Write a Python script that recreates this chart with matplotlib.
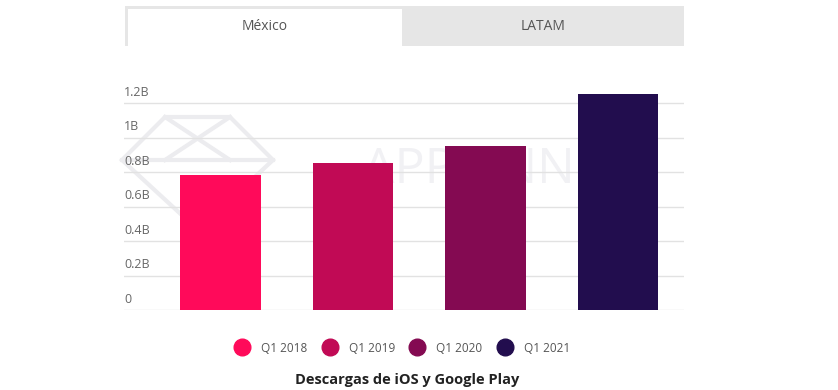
import matplotlib.pyplot as plt
from matplotlib.patches import Rectangle, Polygon
from matplotlib.lines import Line2D

plt.rcParams['font.family'] = ['Open Sans', 'DejaVu Sans']

# Data (billions of downloads)
quarters = ['Q1 2018', 'Q1 2019', 'Q1 2020', 'Q1 2021']
downloads = [0.78, 0.85, 0.95, 1.25]
colors = ['#ff0a5a', '#c10a55', '#840a52', '#220d4e']
yticks = [0, 0.2, 0.4, 0.6, 0.8, 1.0, 1.2]
ytick_labels = ['0', '0.2B', '0.4B', '0.6B', '0.8B', '1B', '1.2B']
tabs = ['México', 'LATAM']

fig = plt.figure(figsize=(8.38, 3.9), dpi=100)
W, H = 838, 390

def fx(px):
    return px / W

def fy(py):
    return 1 - py / H

# Tabs at the top
fig.patches.append(Rectangle((fx(125), fy(46)), fx(684) - fx(125), fy(6) - fy(46),
                             transform=fig.transFigure, facecolor='#e6e6e6', edgecolor='none'))
fig.patches.append(Rectangle((fx(128), fy(46)), fx(402) - fx(128), fy(9) - fy(46),
                             transform=fig.transFigure, facecolor='white', edgecolor='none'))
fig.text(fx(265), fy(26), tabs[0], ha='center', va='center', fontsize=10, color='#555555')
fig.text(fx(543), fy(26), tabs[1], ha='center', va='center', fontsize=10, color='#555555')

ax = fig.add_axes([fx(124), fy(310), fx(684) - fx(124), fy(85.75) - fy(310)])
ax.set_facecolor('none')

# Watermark (faint logo and text), kept behind the bars
wm = '#ececef'
diamond = [(fx(122), fy(160)), (fx(165), fy(117)), (fx(230), fy(117)),
           (fx(273), fy(160)), (fx(198), fy(230))]
ax.add_patch(Polygon(diamond, closed=True, transform=fig.transFigure, clip_on=False,
                     facecolor='none', edgecolor=wm, linewidth=3, zorder=0))
for a, b in [((165, 117), (230, 160)), ((230, 117), (165, 160)), ((122, 160), (273, 160))]:
    ax.add_line(Line2D([fx(a[0]), fx(b[0])], [fy(a[1]), fy(b[1])], transform=fig.transFigure,
                       color=wm, linewidth=3, clip_on=False, zorder=0))
ax.text(fx(490), fy(170), 'APP ANNIE', transform=fig.transFigure, ha='center', va='center',
        fontsize=36, color='#f1f1f4', zorder=0, clip_on=False)

x = list(range(len(quarters)))
ax.bar(x, downloads, width=0.61, color=colors, zorder=3)

ax.set_xlim(-0.728, 3.498)
ax.set_ylim(0, 1.3)
for y in yticks:
    ax.axhline(y, color='#e2e2e2', linewidth=1, zorder=1)
for y, lab in zip(yticks, ytick_labels):
    ax.text(-0.728, y + 0.025, lab, ha='left', va='bottom', fontsize=9, color='#666666', zorder=2)
ax.set_xticks([])
ax.set_yticks([])
for s in ax.spines.values():
    s.set_visible(False)

# Legend
handles = [Line2D([0], [0], marker='o', linestyle='none', markersize=12,
                  markerfacecolor=c, markeredgecolor=c) for c in colors]
fig.legend(handles, quarters, loc='center', bbox_to_anchor=(fx(400), fy(348)),
           ncol=4, frameon=False, fontsize=8.5, handletextpad=0.6, columnspacing=0.9,
           labelcolor='#555555')

fig.text(fx(407), fy(380), 'Descargas de iOS y Google Play', ha='center', va='center',
         fontsize=10.5, fontweight='bold', color='#222222')

plt.savefig('out.png', dpi=100)
